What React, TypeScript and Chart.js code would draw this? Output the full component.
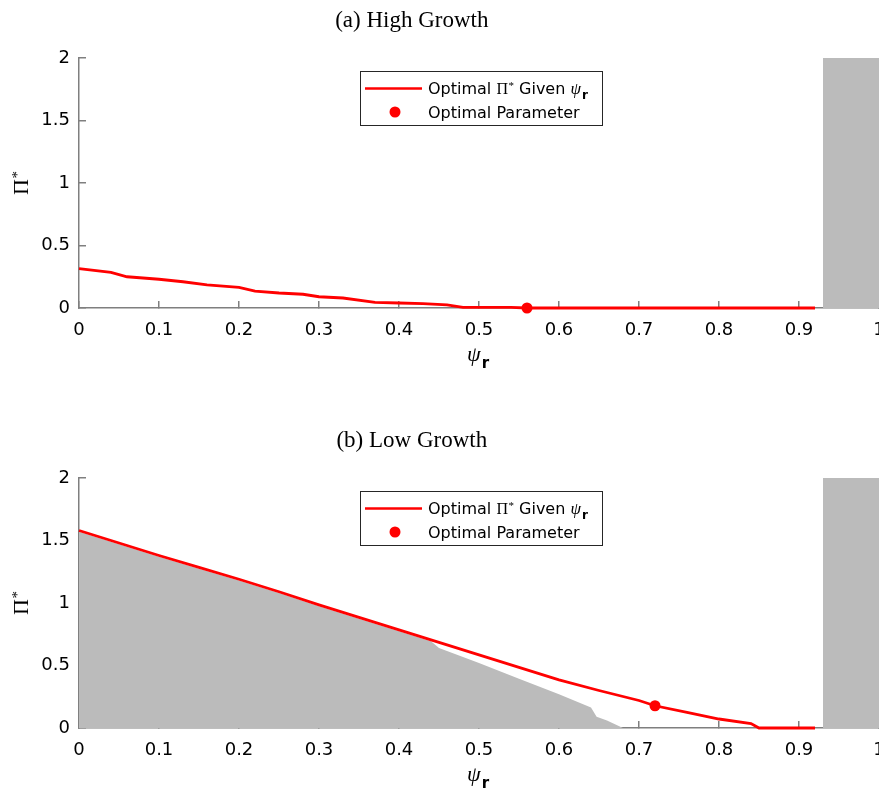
import React, { useEffect, useRef } from 'react';
import { Chart, registerables } from 'chart.js';

Chart.register(...registerables);

// ---- axis ticks ----
const xTicks = [0, 0.1, 0.2, 0.3, 0.4, 0.5, 0.6, 0.7, 0.8, 0.9, 1];
const yTicks = [0, 0.5, 1, 1.5, 2];

// ---- (a) High Growth ----
const highPsi = [0, 0.04, 0.06, 0.08, 0.1, 0.13, 0.16, 0.2, 0.22, 0.25, 0.28, 0.3, 0.33, 0.37, 0.4, 0.43, 0.46, 0.48, 0.5, 0.54, 0.56, 0.7, 0.92];
const highPi = [0.315, 0.285, 0.25, 0.24, 0.23, 0.21, 0.185, 0.165, 0.135, 0.12, 0.11, 0.09, 0.08, 0.045, 0.04, 0.035, 0.025, 0.005, 0.005, 0.005, 0, 0, 0];
const highOptPsi = [0.56];
const highOptPi = [0];

// ---- (b) Low Growth ----
const lowPsi = [0, 0.05, 0.1, 0.15, 0.2, 0.25, 0.3, 0.35, 0.4, 0.45, 0.5, 0.55, 0.6, 0.65, 0.7, 0.72, 0.76, 0.8, 0.84, 0.85, 0.92];
const lowPi = [1.58, 1.48, 1.38, 1.285, 1.19, 1.09, 0.985, 0.885, 0.785, 0.685, 0.585, 0.485, 0.385, 0.3, 0.22, 0.178, 0.125, 0.072, 0.035, 0, 0];
const lowOptPsi = [0.72];
const lowOptPi = [0.178];
const lowFeasPsi = [0, 0.05, 0.1, 0.15, 0.2, 0.25, 0.3, 0.35, 0.4, 0.44, 0.45, 0.5, 0.55, 0.6, 0.64, 0.647, 0.66, 0.68];
const lowFeasPi = [1.57, 1.47, 1.37, 1.275, 1.18, 1.08, 0.975, 0.875, 0.775, 0.695, 0.64, 0.52, 0.395, 0.27, 0.165, 0.09, 0.06, 0];

// ---- infeasible region (both panels) ----
const infeasPsi = [0.93, 1];
const infeasPi = [2, 2];

const RED = '#ff0000';
const GRAY = '#bbbbbb';
const AXIS = '#7f7f7f';

const zip = (xs: number[], ys: number[]) => xs.map((x, i) => ({ x, y: ys[i] }));

const W = 920;
const H = 420;

function drawPiStar(ctx: CanvasRenderingContext2D, x: number, y: number, size: number) {
  ctx.font = `${size}px "Liberation Serif"`;
  ctx.textAlign = 'left';
  ctx.textBaseline = 'alphabetic';
  ctx.fillText('Π', x, y);
  const w = ctx.measureText('Π').width;
  ctx.font = `${Math.round(size * 0.68)}px "Liberation Serif"`;
  ctx.fillText('*', x + w + 0.5, y - size * 0.28);
  return x + w + 0.5 + ctx.measureText('*').width;
}

function drawPsiR(ctx: CanvasRenderingContext2D, x: number, y: number, size: number, subSize: number) {
  ctx.font = `italic ${size}px "Liberation Serif"`;
  ctx.textAlign = 'left';
  ctx.textBaseline = 'alphabetic';
  ctx.fillText('ψ', x, y);
  const w = ctx.measureText('ψ').width;
  ctx.font = `bold ${subSize}px "DejaVu Sans"`;
  ctx.fillText('r', x + w + 1, y + subSize * 0.45);
  return x + w + 1 + ctx.measureText('r').width;
}

const decorPlugin = {
  id: 'decor',
  afterDraw(chart: any, _args: any, opts: any) {
    const { ctx, chartArea } = chart;
    const w = chartArea.right - chartArea.left;
    ctx.save();
    ctx.fillStyle = '#000';

    // panel title
    ctx.font = '23px "Liberation Serif"';
    ctx.textAlign = 'center';
    ctx.textBaseline = 'alphabetic';
    ctx.fillText(opts.title, chartArea.left + 0.416 * w, chartArea.top - 31);

    // x axis title ψr
    drawPsiR(ctx, chartArea.left + 0.485 * w, chartArea.bottom + 53, 22, 15);

    // y axis title Π*
    ctx.save();
    ctx.translate(28, (chartArea.top + chartArea.bottom) / 2);
    ctx.rotate(-Math.PI / 2);
    drawPiStar(ctx, -12, 0, 22);
    ctx.restore();

    // legend
    const bx = Math.round(chartArea.left + 0.351 * w);
    const by = chartArea.top + 13;
    const bw = 242;
    const bh = 54;
    ctx.fillStyle = '#fff';
    ctx.fillRect(bx, by, bw, bh);
    ctx.strokeStyle = '#262626';
    ctx.lineWidth = 1;
    ctx.strokeRect(bx + 0.5, by + 0.5, bw, bh);

    ctx.strokeStyle = RED;
    ctx.lineWidth = 2.5;
    ctx.beginPath();
    ctx.moveTo(bx + 5, by + 17.5);
    ctx.lineTo(bx + 62, by + 17.5);
    ctx.stroke();

    ctx.fillStyle = RED;
    ctx.beginPath();
    ctx.arc(bx + 35, by + 41, 5.5, 0, Math.PI * 2);
    ctx.fill();

    ctx.fillStyle = '#000';
    ctx.textAlign = 'left';
    ctx.textBaseline = 'alphabetic';
    ctx.font = '16px "DejaVu Sans"';
    let tx = bx + 68;
    const b1 = by + 22.5;
    ctx.fillText('Optimal ', tx, b1);
    tx += ctx.measureText('Optimal ').width;
    tx = drawPiStar(ctx, tx, b1, 16);
    ctx.font = '16px "DejaVu Sans"';
    ctx.fillText(' Given ', tx, b1);
    tx += ctx.measureText(' Given ').width;
    drawPsiR(ctx, tx, b1, 17, 12);

    ctx.font = '16px "DejaVu Sans"';
    ctx.fillText('Optimal Parameter', bx + 68, by + 47);
    ctx.restore();
  },
};

function makeConfig(title: string, linePsi: number[], linePi: number[], optPsi: number[], optPi: number[], feasPsi?: number[], feasPi?: number[]): any {
  const datasets: any[] = [
    {
      label: 'Optimal Π* Given ψr',
      data: zip(linePsi, linePi),
      borderColor: RED,
      borderWidth: 2.8,
      pointRadius: 0,
      fill: false,
      clip: false,
      order: 1,
    },
    {
      label: 'Optimal Parameter',
      data: zip(optPsi, optPi),
      showLine: false,
      pointRadius: 5.5,
      pointBackgroundColor: RED,
      pointBorderWidth: 0,
      pointBorderColor: RED,
      clip: false,
      order: 0,
    },
    {
      label: 'Infeasible',
      data: zip(infeasPsi, infeasPi),
      borderColor: 'rgba(0,0,0,0)',
      borderWidth: 0,
      backgroundColor: GRAY,
      fill: 'origin',
      pointRadius: 0,
      order: 3,
    },
  ];
  if (feasPsi && feasPi) {
    datasets.push({
      label: 'Feasible',
      data: zip(feasPsi, feasPi),
      borderColor: 'rgba(0,0,0,0)',
      borderWidth: 0,
      backgroundColor: GRAY,
      fill: 'origin',
      pointRadius: 0,
      order: 2,
    });
  }
  return {
    type: 'line',
    data: { datasets },
    plugins: [decorPlugin],
    options: {
      animation: false,
      responsive: false,
      devicePixelRatio: 1,
      layout: { padding: { left: 0, right: W - 879, top: 58, bottom: 0 } },
      plugins: {
        legend: { display: false },
        tooltip: { enabled: false },
        title: { display: false },
        decor: { title },
      },
      scales: {
        x: {
          type: 'linear',
          min: 0,
          max: 1,
          afterBuildTicks: (s: any) => {
            s.ticks = xTicks.map((v) => ({ value: v }));
          },
          afterFit: (s: any) => {
            s.height = H - 308;
          },
          ticks: {
            color: '#000',
            font: { family: 'DejaVu Sans', size: 18 },
            padding: 19,
            maxRotation: 0,
            autoSkip: false,
            callback: (v: any) => String(v),
          },
          grid: { drawOnChartArea: false, tickLength: -7, color: AXIS, lineWidth: 1.5 },
          border: { color: AXIS, width: 1.5 },
        },
        y: {
          type: 'linear',
          min: 0,
          max: 2,
          afterBuildTicks: (s: any) => {
            s.ticks = yTicks.map((v) => ({ value: v }));
          },
          afterFit: (s: any) => {
            s.width = 79;
          },
          ticks: {
            color: '#000',
            font: { family: 'DejaVu Sans', size: 18 },
            padding: 16,
            autoSkip: false,
            callback: (v: any) => String(v),
          },
          grid: { drawOnChartArea: false, tickLength: -7, color: AXIS, lineWidth: 1.5 },
          border: { color: AXIS, width: 1.5 },
        },
      },
    },
  };
}

function Panel({ top, config }: { top: number; config: any }) {
  const ref = useRef<HTMLCanvasElement | null>(null);
  useEffect(() => {
    if (!ref.current) return;
    const chart = new Chart(ref.current, config);
    return () => chart.destroy();
  }, [config]);
  return (
    <div style={{ position: 'absolute', left: 0, top, width: W, height: H }}>
      <canvas ref={ref} width={W} height={H} style={{ display: 'block', width: W, height: H }} />
    </div>
  );
}

const highConfig = makeConfig('(a) High Growth', highPsi, highPi, highOptPsi, highOptPi);
const lowConfig = makeConfig('(b) Low Growth', lowPsi, lowPi, lowOptPsi, lowOptPi, lowFeasPsi, lowFeasPi);

export default function App() {
  return (
    <div
      style={{
        position: 'fixed',
        left: 0,
        top: 0,
        width: 879,
        height: 791,
        overflow: 'hidden',
        background: '#fff',
      }}
    >
      <Panel top={0} config={highConfig} />
      <Panel top={420} config={lowConfig} />
    </div>
  );
}
